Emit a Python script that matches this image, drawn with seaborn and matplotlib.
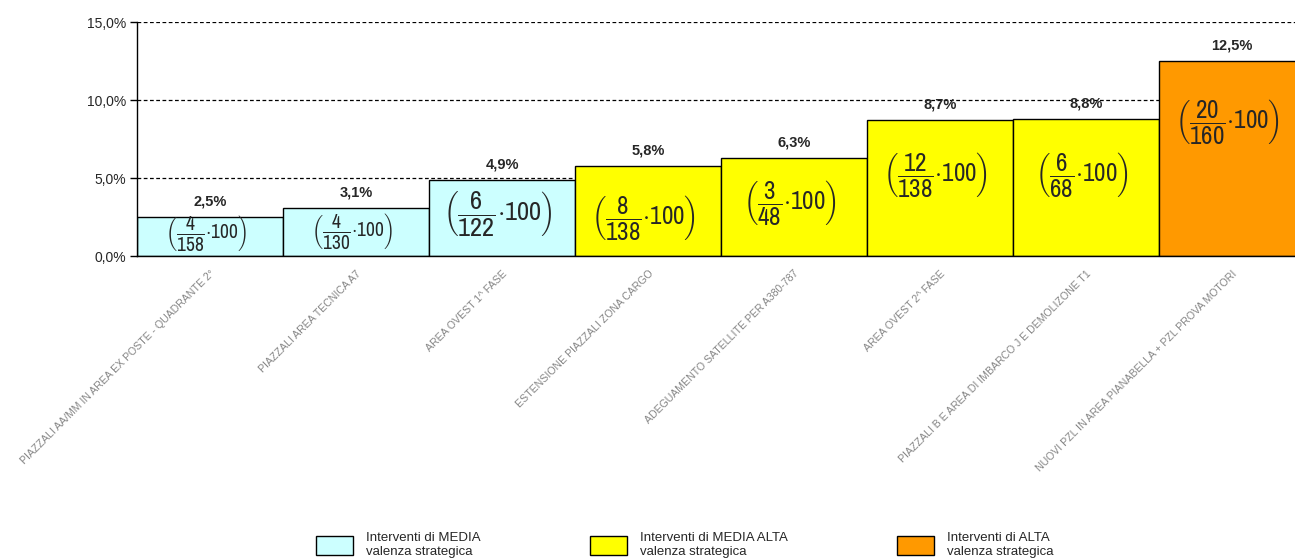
import numpy as np
import matplotlib
matplotlib.use("Agg")
import matplotlib.pyplot as plt
import matplotlib.patches as mpatches
from matplotlib import font_manager as fm
import seaborn as sns

# --- data ---
categories = [
    "PIAZZALI AA/MM IN AREA EX POSTE - QUADRANTE 2°",
    "PIAZZALI AREA TECNICA A7",
    "AREA OVEST 1^ FASE",
    "ESTENSIONE PIAZZALI ZONA CARGO",
    "ADEGUAMENTO SATELLITE PER A380-787",
    "AREA OVEST 2^ FASE",
    "PIAZZALI B E AREA DI IMBARCO J E DEMOLIZONE T1",
    "NUOVI PZL IN AREA PIANABELLA + PZL PROVA MOTORI",
]
values = [2.5, 3.1, 4.9, 5.8, 6.3, 8.7, 8.8, 12.5]
numerators = [4, 4, 6, 8, 3, 12, 6, 20]
denominators = [158, 130, 122, 138, 48, 138, 68, 160]
levels = ["MEDIA", "MEDIA", "MEDIA", "MEDIA ALTA", "MEDIA ALTA",
          "MEDIA ALTA", "MEDIA ALTA", "ALTA"]
legend_labels = ["Interventi di MEDIA\nvalenza strategica",
                 "Interventi di MEDIA ALTA\nvalenza strategica",
                 "Interventi di ALTA\nvalenza strategica"]

level_colors = {"MEDIA": "#CCFFFF", "MEDIA ALTA": "#FFFF00", "ALTA": "#FF9900"}

# layout of the formula labels inside the bars (data units / font sizes)
formula_y = [1.45, 1.6, 2.75, 2.45, 3.4, 5.25, 5.25, 8.65]
formula_size = [14, 14, 19, 18, 18, 18, 18, 18]


def first_font(candidates):
    have = {f.name for f in fm.fontManager.ttflist}
    for name in candidates:
        if name in have:
            return name
    return "DejaVu Sans"


narrow = first_font(["Liberation Sans Narrow", "Arial Narrow", "Archivo Narrow",
                     "Asap Condensed", "Barlow Condensed"])

sns.set_style("white")
plt.rcParams["font.family"] = ["Liberation Sans", "DejaVu Sans"]
plt.rcParams["mathtext.fontset"] = "custom"
plt.rcParams["mathtext.rm"] = narrow
plt.rcParams["mathtext.it"] = narrow

fig = plt.figure(figsize=(12.95, 5.58), dpi=100)
ax = fig.add_axes([137 / 1295, 302 / 558, 1168 / 1295, 234 / 558])

palette = [level_colors[l] for l in levels]
sns.barplot(x=categories, y=values, hue=categories, palette=palette,
            saturation=1, width=1.0, edgecolor="black", linewidth=1,
            legend=False, ax=ax, zorder=3)

ax.set_xlim(-0.5, 7.5)
ax.set_ylim(0, 15)
ax.set_yticks([0, 5, 10, 15])
ax.set_yticklabels([f"{t:.1f}%".replace(".", ",") for t in [0, 5, 10, 15]],
                   fontsize=10)
for t in [5, 10, 15]:
    ax.axhline(t, color="black", linestyle=(0, (3, 2)), linewidth=0.9, zorder=1)

ax.set_xticks(range(len(categories)))
ax.set_xticklabels(categories, rotation=45, ha="right", va="top",
                   rotation_mode="anchor", fontsize=7.6, color="#858585")
ax.tick_params(axis="x", which="major", length=0, pad=9)
ax.set_xticks(np.arange(-0.5, len(categories), 1), minor=True)
ax.tick_params(axis="x", which="minor", length=6, width=1, color="black",
               direction="out")
ax.tick_params(axis="y", length=5, width=1, color="black", direction="out",
               left=True, pad=3)
ax.set_xlabel("")
ax.set_ylabel("")

for side in ["top", "right"]:
    ax.spines[side].set_visible(False)
for side in ["left", "bottom"]:
    ax.spines[side].set_color("black")
    ax.spines[side].set_linewidth(1)
    ax.spines[side].set_zorder(5)

for i, v in enumerate(values):
    ax.annotate(f"{v:.1f}%".replace(".", ","), (i, v), xytext=(0, 6),
                textcoords="offset points", ha="center", va="bottom",
                fontsize=10.5, fontweight="bold", zorder=6)
    ax.text(i - 0.03, formula_y[i],
            r"$\left(\dfrac{%d}{%d}{\cdot}100\right)$" % (numerators[i], denominators[i]),
            ha="center", va="center", fontsize=formula_size[i], zorder=6,
            clip_on=False)

handles = [mpatches.Patch(facecolor=level_colors[k], edgecolor="black", linewidth=1)
           for k in ["MEDIA", "MEDIA ALTA", "ALTA"]]
fig.legend(handles, legend_labels, loc="upper left",
           bbox_to_anchor=(311 / 1295, 1 - 527 / 558), ncol=3, frameon=False,
           fontsize=9.5, handlelength=2.8, handleheight=1.8, handletextpad=1.0,
           columnspacing=8.25, borderaxespad=0)

fig.savefig("out.png", dpi=100)
